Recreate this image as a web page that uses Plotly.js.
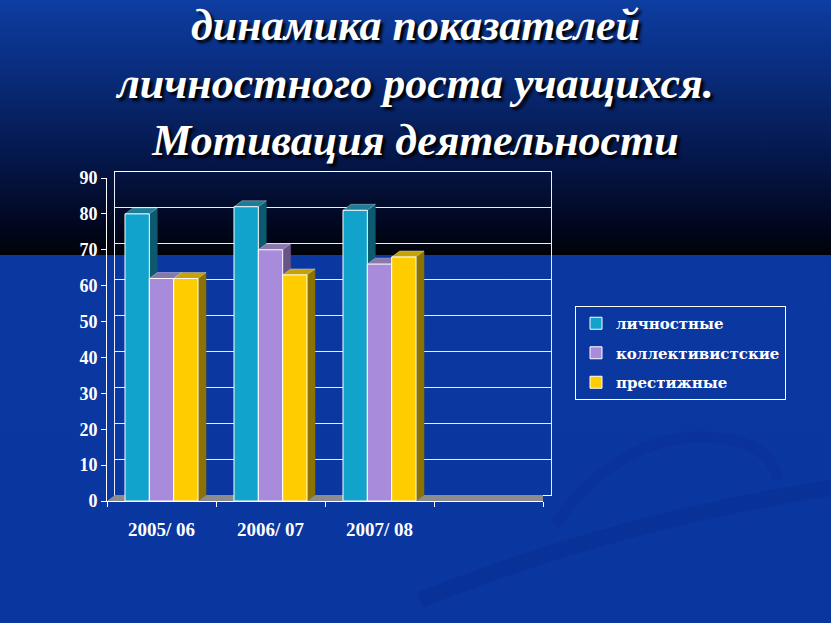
<!DOCTYPE html>
<html><head><meta charset="utf-8">
<script src="https://cdn.plot.ly/plotly-3.0.1.min.js"></script>
<style>
html,body{margin:0;padding:0;width:831px;height:623px;overflow:hidden;
background:linear-gradient(to bottom,#0d3ea2 0px,#0a3189 50px,#072366 110px,#041443 170px,#010822 220px,#000309 255px,#0a37a0 255px,#0a36a0 623px);}
#chart{width:831px;height:623px;}
</style></head><body><div id="chart"></div>
<script>
// ---- data ----
const CATEGORIES = ['2005/ 06', '2006/ 07', '2007/ 08'];
const EMPTY_SLOT = [''];
const SERIES_NAMES = ['личностные', 'коллективистские', 'престижные'];
const PERSONAL = [80, 82, 81];
const COLLECTIVE = [62, 70, 66];
const PRESTIGE = [62, 63, 68];
const Y_TICKS = [0, 10, 20, 30, 40, 50, 60, 70, 80, 90];

// ---- styling ----
const FRONT = ['#12a3cc', '#a98bdc', '#ffcc00'];
const SIDE  = ['#0d5a70', '#6a5387', '#8c7200'];
const TOP   = ['#1d7c97', '#8a77ac', '#c8a200'];
const SERIES = [PERSONAL, COLLECTIVE, PRESTIGE];
const SLOTS = CATEGORIES.concat(EMPTY_SLOT);
const NCAT = SLOTS.length;
const BARGAP = 0.33;
const wBar = (1 - BARGAP) / SERIES.length;

// plot area geometry (px) -> depth offsets
const ML = 107, MT = 172;
const PLOT_W = 444, PLOT_H = 329, DEPTH_X = 8, DEPTH_Y = 6;
const FRONT_W = PLOT_W - DEPTH_X, FRONT_H = PLOT_H - DEPTH_Y;
const YMAX = 90;
const DX = DEPTH_X / (FRONT_W / NCAT);
const DY = DEPTH_Y / (FRONT_H / YMAX);
const XR = [-0.5, NCAT - 0.5];

const FONT = 'Liberation Serif, Times New Roman, serif';
const traces = [];
// placeholder for the back-wall subplot
traces.push({x: [], y: [], type: 'scatter', xaxis: 'x', yaxis: 'y', showlegend: false, hoverinfo: 'skip'});

SERIES.forEach((vals, s) => {
  const sx = [], sy = [], tx = [], ty = [];
  vals.forEach((v, i) => {
    const L = i - (1 - BARGAP) / 2 + s * wBar, R = L + wBar;
    sx.push(R, R, R + DX, R + DX, R, null);
    sy.push(0, v, v + DY, DY, 0, null);
    tx.push(L, R, R + DX, L + DX, L, null);
    ty.push(v, v, v + DY, v + DY, v, null);
  });
  traces.push({x: sx, y: sy, type: 'scatter', mode: 'lines', fill: 'toself',
    fillcolor: SIDE[s], line: {color: SIDE[s], width: 0.5}, xaxis: 'x2', yaxis: 'y2',
    showlegend: false, hoverinfo: 'skip'});
  traces.push({x: tx, y: ty, type: 'scatter', mode: 'lines', fill: 'toself',
    fillcolor: TOP[s], line: {color: 'rgba(255,255,255,0.55)', width: 0.6}, xaxis: 'x2', yaxis: 'y2',
    showlegend: false, hoverinfo: 'skip'});
});

SERIES.forEach((vals, s) => {
  traces.push({
    type: 'bar', name: SERIES_NAMES[s], legendgroup: 'g' + s,
    x: vals.map((v, i) => i), y: vals,
    xaxis: 'x3', yaxis: 'y2',
    marker: {color: FRONT[s], line: {color: '#ffffff', width: 1}},
    hoverinfo: 'skip'
  });
});

// decorative background swirls (pixel coords -> paper coords)
const px = (x) => ((x - ML) / PLOT_W).toFixed(4);
const py = (y) => ((MT + PLOT_H - y) / PLOT_H).toFixed(4);
const swirl = (pts) => 'M ' + px(pts[0]) + ',' + py(pts[1]) +
  ' Q ' + px(pts[2]) + ',' + py(pts[3]) + ' ' + px(pts[4]) + ',' + py(pts[5]) +
  (pts.length > 6 ? ' Q ' + px(pts[6]) + ',' + py(pts[7]) + ' ' + px(pts[8]) + ',' + py(pts[9]) : '');

const layout = {
  width: 831, height: 623,
  paper_bgcolor: 'rgba(0,0,0,0)', plot_bgcolor: 'rgba(0,0,0,0)',
  margin: {l: ML, r: 831 - ML - PLOT_W, t: MT, b: 623 - MT - PLOT_H, pad: 0},
  barmode: 'group', bargap: BARGAP, bargroupgap: 0,
  showlegend: true,
  title: {
    text: 'динамика показателей<br>личностного роста учащихся.<br>Мотивация деятельности',
    font: {family: FONT, size: 44, color: '#ffffff', style: 'italic', weight: 'bold',
           shadow: '3px 3px 3px #000000'},
    x: 0.5, xanchor: 'center', xref: 'container',
    y: 0.935, yanchor: 'top', yref: 'container'
  },
  xaxis: {domain: [DEPTH_X / PLOT_W, 1], range: XR, anchor: 'y',
    showline: true, mirror: true, linecolor: '#ffffff', linewidth: 1,
    showgrid: false, zeroline: false, showticklabels: false, ticks: '', fixedrange: true},
  yaxis: {domain: [DEPTH_Y / PLOT_H, 1], range: [0, YMAX], anchor: 'x',
    tickvals: Y_TICKS, showgrid: true, gridcolor: '#e6eeff', gridwidth: 1,
    showline: true, mirror: true, linecolor: '#e6eeff', linewidth: 1,
    zeroline: false, showticklabels: false, ticks: '', fixedrange: true},
  xaxis2: {domain: [0, FRONT_W / PLOT_W], range: XR, anchor: 'y2',
    tickvals: SLOTS.map((c, i) => i), ticktext: SLOTS, ticks: '',
    showline: true, linecolor: '#ffffff', linewidth: 1,
    showgrid: false, zeroline: false, ticklabelstandoff: 11,
    tickfont: {family: FONT, size: 19, color: '#ffffff', weight: 'bold'}, fixedrange: true},
  yaxis2: {domain: [0, FRONT_H / PLOT_H], range: [0, YMAX], anchor: 'x2',
    tickvals: Y_TICKS, ticks: 'outside', ticklen: 5, tickcolor: '#ffffff', tickwidth: 1,
    showline: true, linecolor: '#ffffff', linewidth: 1,
    showgrid: false, zeroline: false,
    tickfont: {family: FONT, size: 18, color: '#ffffff', weight: 'bold'}, fixedrange: true},
  xaxis3: {overlaying: 'x2', anchor: 'y2', range: XR,
    tickvals: SLOTS.map((c, i) => i - 0.5).concat([NCAT - 0.5]),
    ticks: 'outside', ticklen: 5, tickcolor: '#ffffff', tickwidth: 1,
    showticklabels: false, showline: false, showgrid: false, zeroline: false, fixedrange: true},
  legend: {
    x: (575 - ML) / PLOT_W, xanchor: 'left', y: (MT + PLOT_H - 306) / PLOT_H, yanchor: 'top',
    bgcolor: 'rgba(0,0,0,0)', bordercolor: '#ffffff', borderwidth: 1,
    font: {family: 'DejaVu Serif, serif', size: 15, color: '#ffffff', weight: 'bold'},
    tracegroupgap: 7, traceorder: 'grouped'
  },
  shapes: [
    {type: 'path', xref: 'paper', yref: 'paper', layer: 'below',
     path: swirl([420, 600, 620, 520, 831, 488]),
     line: {color: 'rgba(0,25,95,0.12)', width: 16}},
    {type: 'path', xref: 'paper', yref: 'paper', layer: 'below',
     path: swirl([555, 525, 610, 445, 690, 437, 770, 435, 778, 480]),
     line: {color: 'rgba(0,25,95,0.09)', width: 11}},
    {type: 'path', xref: 'x2', yref: 'y2', layer: 'below',
     path: `M ${XR[0]},0 L ${XR[1]},0 L ${XR[1] + DX},${DY} L ${XR[0] + DX},${DY} Z`,
     fillcolor: '#8c8c8c', line: {width: 0}}
  ],
  hovermode: false
};
Plotly.newPlot('chart', traces, layout, {displayModeBar: false, staticPlot: true});
</script></body></html>
